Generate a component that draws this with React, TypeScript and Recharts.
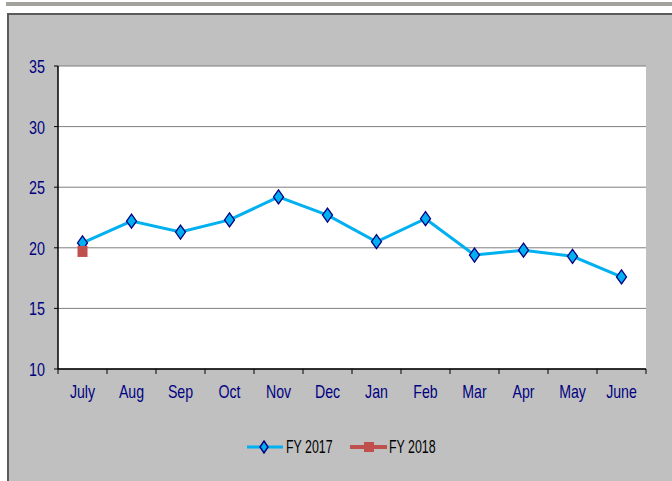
import React from 'react';
import { LineChart, Line, XAxis, YAxis, CartesianGrid, Legend } from 'recharts';

const months = ['July', 'Aug', 'Sep', 'Oct', 'Nov', 'Dec', 'Jan', 'Feb', 'Mar', 'Apr', 'May', 'June'];
const fy2017 = [20.4, 22.2, 21.3, 22.3, 24.2, 22.7, 20.5, 22.4, 19.4, 19.8, 19.3, 17.6];
const fy2018: (number | null)[] = [19.7, null, null, null, null, null, null, null, null, null, null, null];
const yTicks = [10, 15, 20, 25, 30, 35];
const seriesNames = ['FY 2017', 'FY 2018'];

const data = months.map((m, i) => ({ month: m, fy2017: fy2017[i], fy2018: fy2018[i] }));

const BLUE = '#00B0F0';
const NAVY = '#000080';
const RED = '#C0504D';
const FONT = '"Liberation Sans", Arial, sans-serif';

const Diamond = (props: any) => {
  const { cx, cy } = props;
  if (cx == null || cy == null) return <g />;
  return (
    <path
      d={`M${cx},${cy - 7} L${cx + 5},${cy} L${cx},${cy + 7} L${cx - 5},${cy} Z`}
      fill={BLUE}
      stroke={NAVY}
      strokeWidth={1.3}
    />
  );
};

const Square = (props: any) => {
  const { cx, cy } = props;
  if (cx == null || cy == null) return <g />;
  return <rect x={cx - 5} y={cy - 5.5} width={10} height={11} fill={RED} />;
};

const XTick = (props: any) => {
  const { x, y, payload, index, width, visibleTicksCount } = props;
  const n = visibleTicksCount || months.length;
  const step = width ? width / n : 49;
  const last = index === n - 1;
  return (
    <g>
      <line x1={x - step / 2} y1={y} x2={x - step / 2} y2={y + 5} stroke="#000" strokeWidth={1} />
      {last && <line x1={x + step / 2} y1={y} x2={x + step / 2} y2={y + 5} stroke="#000" strokeWidth={1} />}
      <text
        transform={`translate(${x},${y + 29}) scale(0.8,1)`}
        textAnchor="middle"
        fill={NAVY}
        fontSize={17.7}
        fontFamily={FONT}
      >
        {payload.value}
      </text>
    </g>
  );
};

const YTick = (props: any) => {
  const { x, y, payload } = props;
  return (
    <text
      transform={`translate(${x},${y + 7}) scale(0.81,1)`}
      textAnchor="end"
      fill={NAVY}
      fontSize={17.7}
      fontFamily={FONT}
    >
      {payload.value}
    </text>
  );
};

const LegendContent = () => {
  const lineW = 36;
  const textW = 47;
  const gap = 17;
  const total = lineW + 3 + textW + gap + 37 + 2 + textW;
  const start = 341.5 - total / 2;
  const x2 = start + lineW + 3 + textW + gap;
  const cy = 12;
  return (
    <svg width={672} height={24} style={{ display: 'block' }}>
      <line x1={start} y1={cy} x2={start + lineW} y2={cy} stroke={BLUE} strokeWidth={3} />
      <path
        d={`M${start + 17},${cy - 6} L${start + 21},${cy} L${start + 17},${cy + 6} L${start + 13},${cy} Z`}
        fill={BLUE}
        stroke={NAVY}
        strokeWidth={1.5}
      />
      <text
        transform={`translate(${start + lineW + 3},${cy + 6.3}) scale(0.7,1)`}
        fontSize={17.7}
        fontFamily={FONT}
        fill="#000"
      >
        {seriesNames[0]}
      </text>
      <line x1={x2} y1={cy} x2={x2 + 37} y2={cy} stroke={RED} strokeWidth={4} />
      <rect x={x2 + 14} y={cy - 5} width={10} height={10} fill={RED} />
      <text
        transform={`translate(${x2 + 39},${cy + 6.3}) scale(0.7,1)`}
        fontSize={17.7}
        fontFamily={FONT}
        fill="#000"
      >
        {seriesNames[1]}
      </text>
    </svg>
  );
};

export default function App() {
  return (
    <div
      style={{
        position: 'absolute',
        left: 0,
        top: 0,
        width: 672,
        height: 481,
        background: '#fff',
        overflow: 'hidden',
        fontFamily: FONT,
      }}
    >
      <div style={{ position: 'absolute', left: 6, top: 2, width: 666, height: 4, background: '#a3a29c' }} />
      <div
        style={{
          position: 'absolute',
          left: 7,
          top: 13,
          width: 665,
          height: 468,
          background: '#c0c0c0',
          borderLeft: '2px solid #5a5a5a',
          borderTop: '2px solid #5a5a5a',
          boxSizing: 'border-box',
        }}
      />
      <div style={{ position: 'absolute', left: 0, top: 0 }}>
        <LineChart width={672} height={481} data={data} margin={{ top: 66, right: 26, bottom: 58, left: 8 }}>
          <CartesianGrid vertical={false} stroke="#7f7f7f" fill="#fff" fillOpacity={1} />
          <XAxis
            dataKey="month"
            scale="band"
            interval={0}
            tickLine={false}
            tickSize={0}
            tickMargin={0}
            height={30}
            axisLine={{ stroke: '#000', strokeWidth: 1.5 }}
            tick={<XTick />}
          />
          <YAxis
            domain={[10, 35]}
            ticks={yTicks}
            width={50}
            tickSize={4}
            tickMargin={9}
            axisLine={{ stroke: '#000', strokeWidth: 1.5 }}
            tickLine={{ stroke: '#000' }}
            tick={<YTick />}
            interval={0}
          />
          <YAxis
            yAxisId="frame"
            orientation="right"
            width={0}
            tick={false}
            tickLine={false}
            axisLine={{ stroke: '#7f7f7f', strokeWidth: 1.5 }}
          />
          <Legend
            verticalAlign="bottom"
            content={<LegendContent />}
            wrapperStyle={{ left: 0, width: 672, top: 435, height: 24 }}
          />
          <Line
            type="linear"
            dataKey="fy2017"
            name={seriesNames[0]}
            stroke={BLUE}
            strokeWidth={3}
            dot={<Diamond />}
            activeDot={false}
            isAnimationActive={false}
          />
          <Line
            type="linear"
            dataKey="fy2018"
            name={seriesNames[1]}
            stroke={RED}
            strokeWidth={3}
            dot={<Square />}
            activeDot={false}
            isAnimationActive={false}
          />
        </LineChart>
      </div>
    </div>
  );
}
